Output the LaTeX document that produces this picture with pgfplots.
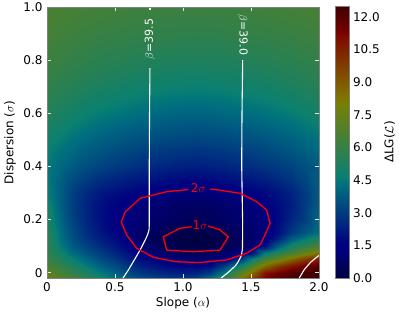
\documentclass[border=0pt]{standalone}
\usepackage{fontspec}
\setmainfont{DejaVu Sans}
\usepackage{pgfplots}
\pgfplotsset{compat=1.18}
\pgfplotsset{
  colormap={jethalf}{rgb255(0pt)=(0,0,64); rgb255(110pt)=(0,0,128); rgb255(125pt)=(0,0,128);
    rgb255(340pt)=(0,110,128); rgb255(350pt)=(0,115,123); rgb255(375pt)=(10,128,113);
    rgb255(640pt)=(119,128,4); rgb255(650pt)=(123,123,0); rgb255(660pt)=(128,118,0);
    rgb255(890pt)=(128,9,0); rgb255(910pt)=(116,0,0); rgb255(1000pt)=(64,0,0)}
}
\newcommand{\tfont}{\fontsize{12}{14}\selectfont}
\begin{document}
\begin{tikzpicture}
\begin{axis}[
  name=main,
  at={(0,0)}, anchor=south west,
  scale only axis, width=272pt, height=271pt,
  xmin=0, xmax=2, ymin=-0.02, ymax=1.0,
  tick label style={font=\tfont},
  xtick={0,0.5,1,1.5,2}, xticklabels={0,0.5,1.0,1.5,2.0},
  ytick={0,0.2,0.4,0.6,0.8,1.0}, yticklabels={0,0.2,0.4,0.6,0.8,1.0},
  xticklabel style={yshift=-1pt},
  yticklabel style={xshift=-1pt},
  tick align=inside, major tick length=4pt,
  xtick pos=both, ytick pos=both,
  every tick/.style={white!80!gray, line width=0.6pt},
  axis line style={gray},
  axis on top,
  xlabel={Slope ($\alpha$)}, ylabel={Dispersion ($\sigma$)},
  every axis x label/.style={at={(axis description cs:0.5,-0.092)}, anchor=center, font=\tfont},
  every axis y label/.style={at={(axis description cs:-0.136,0.5)}, rotate=90, anchor=center, font=\tfont},
  colormap name=jethalf,
  point meta min=0, point meta max=12.5,
  colorbar,
  colorbar style={
    at={(parent axis.north east)}, anchor=north west, xshift=8pt, yshift=1pt,
    width=14pt, height=272pt,
    ytick={0,1.5,3,4.5,6,7.5,9,10.5,12},
    yticklabels={0.0,1.5,3.0,4.5,6.0,7.5,9.0,10.5,12.0},
    major tick length=0pt,
    axis line style={gray},
    tick label style={font=\tfont},
    yticklabel style={xshift=0pt},
    ylabel={ΔLG($\mathcal{L}$)},
    every axis y label/.style={at={(axis description cs:3.86,0.5)}, rotate=90, anchor=center, font=\tfont},
  },
]
\addplot[surf, shader=interp, mesh/cols=21, mesh/rows=18, point meta=explicit]
table[x=x, y=y, meta=z] {
x y z
0.0 -0.02 7.6
0.1 -0.02 7.0
0.2 -0.02 6.3
0.3 -0.02 5.7
0.4 -0.02 5.0
0.5 -0.02 4.3
0.6 -0.02 3.8
0.7 -0.02 3.4
0.8 -0.02 3.2
0.9 -0.02 3.0
1.0 -0.02 2.9
1.1 -0.02 3.1
1.2 -0.02 4.2
1.3 -0.02 5.7
1.4 -0.02 7.2
1.5 -0.02 9.5
1.6 -0.02 11.3
1.7 -0.02 12.0
1.8 -0.02 12.4
1.9 -0.02 12.5
2.0 -0.02 12.5
0.0 0.0 7.2
0.1 0.0 6.5
0.2 0.0 5.8
0.3 0.0 5.1
0.4 0.0 4.5
0.5 0.0 3.9
0.6 0.0 3.3
0.7 0.0 2.9
0.8 0.0 2.6
0.9 0.0 2.4
1.0 0.0 2.3
1.1 0.0 2.4
1.2 0.0 3.0
1.3 0.0 4.5
1.4 0.0 6.6
1.5 0.0 8.4
1.6 0.0 10.9
1.7 0.0 11.6
1.8 0.0 12.2
1.9 0.0 12.4
2.0 0.0 12.5
0.0 0.025 6.6
0.1 0.025 5.9
0.2 0.025 5.2
0.3 0.025 4.5
0.4 0.025 3.9
0.5 0.025 3.4
0.6 0.025 2.8
0.7 0.025 2.3
0.8 0.025 2.0
0.9 0.025 1.8
1.0 0.025 1.65
1.1 0.025 1.6
1.2 0.025 1.8
1.3 0.025 3.0
1.4 0.025 4.5
1.5 0.025 6.5
1.6 0.025 8.6
1.7 0.025 9.9
1.8 0.025 10.9
1.9 0.025 11.6
2.0 0.025 12.1
0.0 0.05 6.1
0.1 0.05 5.3
0.2 0.05 4.6
0.3 0.05 4.0
0.4 0.05 3.4
0.5 0.05 2.9
0.6 0.05 2.3
0.7 0.05 1.8
0.8 0.05 1.45
0.9 0.05 1.29
1.0 0.05 1.10
1.1 0.05 1.01
1.2 0.05 1.13
1.3 0.05 1.25
1.4 0.05 2.3
1.5 0.05 4.5
1.6 0.05 6.4
1.7 0.05 7.4
1.8 0.05 8.7
1.9 0.05 9.8
2.0 0.05 10.7
0.0 0.075 5.9
0.1 0.075 4.9
0.2 0.075 4.1
0.3 0.075 3.5
0.4 0.075 3.0
0.5 0.075 2.5
0.6 0.075 1.9
0.7 0.075 1.4
0.8 0.075 1.09
0.9 0.075 0.85
1.0 0.075 0.65
1.1 0.075 0.56
1.2 0.075 0.69
1.3 0.075 0.89
1.4 0.075 1.1
1.5 0.075 1.9
1.6 0.075 4.5
1.7 0.075 5.6
1.8 0.075 6.5
1.9 0.075 7.4
2.0 0.075 8.5
0.0 0.1 5.7
0.1 0.1 4.5
0.2 0.1 3.7
0.3 0.1 3.1
0.4 0.1 2.6
0.5 0.1 2.1
0.6 0.1 1.6
0.7 0.1 1.0
0.8 0.1 0.64
0.9 0.1 0.40
1.0 0.1 0.20
1.1 0.1 0.11
1.2 0.1 0.24
1.3 0.1 0.44
1.4 0.1 0.69
1.5 0.1 1.05
1.6 0.1 1.9
1.7 0.1 3.8
1.8 0.1 5.1
1.9 0.1 5.8
2.0 0.1 6.6
0.0 0.125 5.6
0.1 0.125 4.3
0.2 0.125 3.4
0.3 0.125 2.8
0.4 0.125 2.3
0.5 0.125 1.85
0.6 0.125 1.4
0.7 0.125 0.85
0.8 0.125 0.52
0.9 0.125 0.29
1.0 0.125 0.10
1.1 0.125 0.01
1.2 0.125 0.13
1.3 0.125 0.33
1.4 0.125 0.57
1.5 0.125 0.86
1.6 0.125 1.25
1.7 0.125 2.4
1.8 0.125 3.9
1.9 0.125 4.6
2.0 0.125 5.35
0.0 0.15 5.5
0.1 0.15 4.2
0.2 0.15 3.3
0.3 0.15 2.6
0.4 0.15 2.1
0.5 0.15 1.6
0.6 0.15 1.17
0.7 0.15 0.87
0.8 0.15 0.62
0.9 0.15 0.41
1.0 0.15 0.24
1.1 0.15 0.16
1.2 0.15 0.27
1.3 0.15 0.44
1.4 0.15 0.66
1.5 0.15 0.92
1.6 0.15 1.2
1.7 0.15 1.9
1.8 0.15 3.0
1.9 0.15 3.7
2.0 0.15 4.3
0.0 0.2 5.2
0.1 0.2 4.0
0.2 0.2 3.1
0.3 0.2 2.4
0.4 0.2 1.9
0.5 0.2 1.5
0.6 0.2 1.25
0.7 0.2 1.05
0.8 0.2 0.87
0.9 0.2 0.73
1.0 0.2 0.61
1.1 0.2 0.55
1.2 0.2 0.63
1.3 0.2 0.75
1.4 0.2 0.91
1.5 0.2 1.09
1.6 0.2 1.25
1.7 0.2 1.75
1.8 0.2 2.5
1.9 0.2 3.1
2.0 0.2 4.1
0.0 0.25 4.95
0.1 0.25 3.85
0.2 0.25 3.0
0.3 0.25 2.35
0.4 0.25 1.9
0.5 0.25 1.59
0.6 0.25 1.38
0.7 0.25 1.19
0.8 0.25 1.04
0.9 0.25 0.91
1.0 0.25 0.80
1.1 0.25 0.75
1.2 0.25 0.82
1.3 0.25 0.93
1.4 0.25 1.07
1.5 0.25 1.23
1.6 0.25 1.45
1.7 0.25 1.79
1.8 0.25 2.3
1.9 0.25 3.02
2.0 0.25 3.85
0.0 0.3 4.7
0.1 0.3 3.8
0.2 0.3 3.0
0.3 0.3 2.5
0.4 0.3 2.11
0.5 0.3 1.89
0.6 0.3 1.70
0.7 0.3 1.54
0.8 0.3 1.40
0.9 0.3 1.29
1.0 0.3 1.20
1.1 0.3 1.15
1.2 0.3 1.21
1.3 0.3 1.31
1.4 0.3 1.43
1.5 0.3 1.57
1.6 0.3 1.73
1.7 0.3 2.03
1.8 0.3 2.41
1.9 0.3 2.98
2.0 0.3 3.76
0.0 0.4 4.5
0.1 0.4 4.08
0.2 0.4 3.73
0.3 0.4 3.44
0.4 0.4 3.19
0.5 0.4 2.98
0.6 0.4 2.81
0.7 0.4 2.66
0.8 0.4 2.53
0.9 0.4 2.43
1.0 0.4 2.34
1.1 0.4 2.30
1.2 0.4 2.36
1.3 0.4 2.45
1.4 0.4 2.56
1.5 0.4 2.69
1.6 0.4 2.84
1.7 0.4 3.02
1.8 0.4 3.24
1.9 0.4 3.49
2.0 0.4 3.8
0.0 0.5 4.89
0.1 0.5 4.57
0.2 0.5 4.30
0.3 0.5 4.08
0.4 0.5 3.89
0.5 0.5 3.73
0.6 0.5 3.59
0.7 0.5 3.48
0.8 0.5 3.38
0.9 0.5 3.30
1.0 0.5 3.23
1.1 0.5 3.20
1.2 0.5 3.25
1.3 0.5 3.31
1.4 0.5 3.40
1.5 0.5 3.50
1.6 0.5 3.62
1.7 0.5 3.76
1.8 0.5 3.92
1.9 0.5 4.12
2.0 0.5 4.35
0.0 0.6 5.44
0.1 0.6 5.16
0.2 0.6 4.94
0.3 0.6 4.74
0.4 0.6 4.58
0.5 0.6 4.45
0.6 0.6 4.33
0.7 0.6 4.24
0.8 0.6 4.15
0.9 0.6 4.08
1.0 0.6 4.03
1.1 0.6 4.00
1.2 0.6 4.04
1.3 0.6 4.10
1.4 0.6 4.17
1.5 0.6 4.25
1.6 0.6 4.35
1.7 0.6 4.47
1.8 0.6 4.61
1.9 0.6 4.78
2.0 0.6 4.98
0.0 0.7 5.89
0.1 0.7 5.66
0.2 0.7 5.47
0.3 0.7 5.31
0.4 0.7 5.18
0.5 0.7 5.07
0.6 0.7 4.97
0.7 0.7 4.89
0.8 0.7 4.83
0.9 0.7 4.77
1.0 0.7 4.72
1.1 0.7 4.70
1.2 0.7 4.73
1.3 0.7 4.78
1.4 0.7 4.84
1.5 0.7 4.91
1.6 0.7 4.99
1.7 0.7 5.09
1.8 0.7 5.20
1.9 0.7 5.34
2.0 0.7 5.51
0.0 0.8 6.23
0.1 0.8 6.05
0.2 0.8 5.91
0.3 0.8 5.78
0.4 0.8 5.68
0.5 0.8 5.59
0.6 0.8 5.52
0.7 0.8 5.45
0.8 0.8 5.40
0.9 0.8 5.35
1.0 0.8 5.32
1.1 0.8 5.30
1.2 0.8 5.33
1.3 0.8 5.36
1.4 0.8 5.41
1.5 0.8 5.46
1.6 0.8 5.53
1.7 0.8 5.61
1.8 0.8 5.70
1.9 0.8 5.80
2.0 0.8 5.93
0.0 0.9 6.48
0.1 0.9 6.35
0.2 0.9 6.24
0.3 0.9 6.15
0.4 0.9 6.07
0.5 0.9 6.01
0.6 0.9 5.96
0.7 0.9 5.91
0.8 0.9 5.87
0.9 0.9 5.84
1.0 0.9 5.81
1.1 0.9 5.80
1.2 0.9 5.82
1.3 0.9 5.85
1.4 0.9 5.88
1.5 0.9 5.92
1.6 0.9 5.97
1.7 0.9 6.02
1.8 0.9 6.09
1.9 0.9 6.17
2.0 0.9 6.26
0.0 1.0 6.6
0.1 1.0 6.55
0.2 1.0 6.5
0.3 1.0 6.45
0.4 1.0 6.4
0.5 1.0 6.35
0.6 1.0 6.3
0.7 1.0 6.25
0.8 1.0 6.2
0.9 1.0 6.2
1.0 1.0 6.2
1.1 1.0 6.2
1.2 1.0 6.2
1.3 1.0 6.2
1.4 1.0 6.25
1.5 1.0 6.3
1.6 1.0 6.35
1.7 1.0 6.4
1.8 1.0 6.45
1.9 1.0 6.5
2.0 1.0 6.55
};
% beta = 39.5 contour
\addplot[white, line width=1.1pt, no marks] coordinates {(0.757,1.0) (0.757,0.99)};
\addplot[white, line width=1.1pt, no marks, smooth, tension=0.3] coordinates {
(0.757,0.77) (0.754,0.6) (0.752,0.4) (0.752,0.2) (0.750,0.161) (0.733,0.135) (0.684,0.085) (0.598,0.010) (0.559,-0.02)};
% beta = 39.0 contour
\addplot[white, line width=1.1pt, no marks, smooth, tension=0.3] coordinates {
(1.439,0.80) (1.434,0.6) (1.432,0.4) (1.438,0.2) (1.437,0.09) (1.425,0.06) (1.39,0.029) (1.33,0.0) (1.28,-0.02)};
% beta = 38.5 contour (partial)
\addplot[white, line width=1.1pt, no marks, smooth, tension=0.3] coordinates {
(1.855,-0.02) (1.89,0.01) (1.94,0.04) (2.0,0.065)};
% 2 sigma contour
\addplot[red, line width=1.3pt, no marks] coordinates {
(1.20,0.314) (1.223,0.314) (1.419,0.299) (1.542,0.267) (1.615,0.236) (1.640,0.186) (1.603,0.142) (1.566,0.104) (1.468,0.073) (1.321,0.048) (1.125,0.038) (0.953,0.041) (0.782,0.058) (0.659,0.092) (0.586,0.142) (0.546,0.190) (0.574,0.228) (0.684,0.280) (0.880,0.305) (1.04,0.313)};
% 1 sigma contour
\addplot[red, line width=1.3pt, no marks] coordinates {
(1.186,0.176) (1.272,0.161) (1.333,0.135) (1.272,0.085) (1.076,0.079) (0.880,0.085) (0.855,0.135) (0.978,0.167) (1.064,0.173)};
\node[red, inner sep=0pt, font=\fontsize{12}{13}\selectfont] at (axis cs:1.113,0.317) {2$\sigma$};
\node[red, inner sep=0pt, font=\fontsize{12}{13}\selectfont] at (axis cs:1.125,0.179) {1$\sigma$};
\node[white, rotate=90, inner sep=0pt, font=\fontsize{11}{12}\selectfont] at (axis cs:0.757,0.88) {$\beta$=39.5};
\node[white, rotate=-90, inner sep=0pt, font=\fontsize{11}{12}\selectfont] at (axis cs:1.439,0.895) {$\beta$=39.0};
\end{axis}
\pgfresetboundingbox
\path[use as bounding box] (-47pt,-38pt) rectangle (352pt,278pt);
\end{tikzpicture}
\end{document}
